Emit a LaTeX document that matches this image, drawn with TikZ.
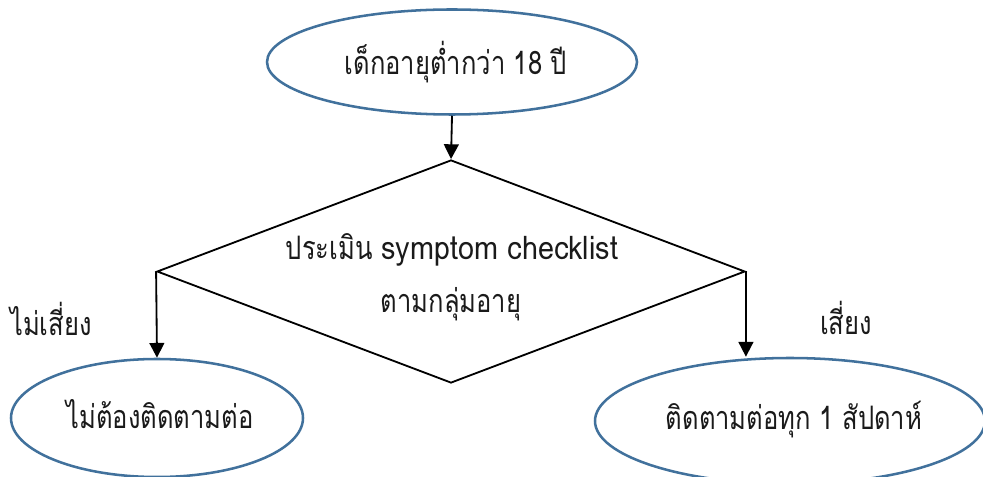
\documentclass[tikz,border=0pt]{standalone}
\usepackage{fontspec}
\newfontfamily\thaifont[Script=Thai,FakeStretch=0.79]{Loma}
\newfontfamily\latinfont[FakeStretch=0.89]{Loma}
\usetikzlibrary{shapes.geometric,arrows.meta}
\definecolor{ellblue}{HTML}{41719C}
\definecolor{txt}{HTML}{1A1A1A}
\begin{document}
\begin{tikzpicture}[x=0.025cm,y=-0.025cm,
  every node/.style={font=\thaifont\fontsize{23}{26}\selectfont, inner sep=0pt, text=txt},
  oval/.style={ellipse, draw=ellblue, line width=1.8pt},
  decision/.style={diamond, draw=black, line width=1.3pt},
  conn/.style={draw=black, line width=1.3pt, -{Triangle[width=10.5pt,length=10.5pt]}},
  lbl/.style={anchor=center}]
\useasboundingbox (0,0) rectangle (983,477);
\node[oval, minimum width=370*0.025cm, minimum height=105*0.025cm] (start) at (452,62) {};
\node (starttext) at (456,62) {เด็กอายุต่ำกว่า 18 ปี};
\node[decision, minimum width=588*0.025cm, minimum height=223*0.025cm] (dec) at (451,271.5) {};
\node (dec1) at (452,250) {ประเมิน {\latinfont symptom checklist}};
\node (dec2) at (451,304) {ตามกลุ่มอายุ};
\node[oval, minimum width=292*0.025cm, minimum height=118*0.025cm] (left) at (157,418) {};
\node (lefttext) at (160,414) {ไม่ต้องติดตามต่อ};
\node[oval, minimum width=390*0.025cm, minimum height=126*0.025cm] (right) at (790,421) {};
\node (righttext) at (794,420) {ติดตามต่อทุก 1 สัปดาห์};
\node[lbl] (no) at (51,319) {ไม่เสี่ยง};
\node[lbl] (yes) at (846,318) {เสี่ยง};
\draw[conn] (start.south) -- (dec.north);
\draw[conn] (dec.west) -- (left.north);
\draw[conn] (dec.east) -- (dec.east |- right.north);
\end{tikzpicture}
\end{document}
